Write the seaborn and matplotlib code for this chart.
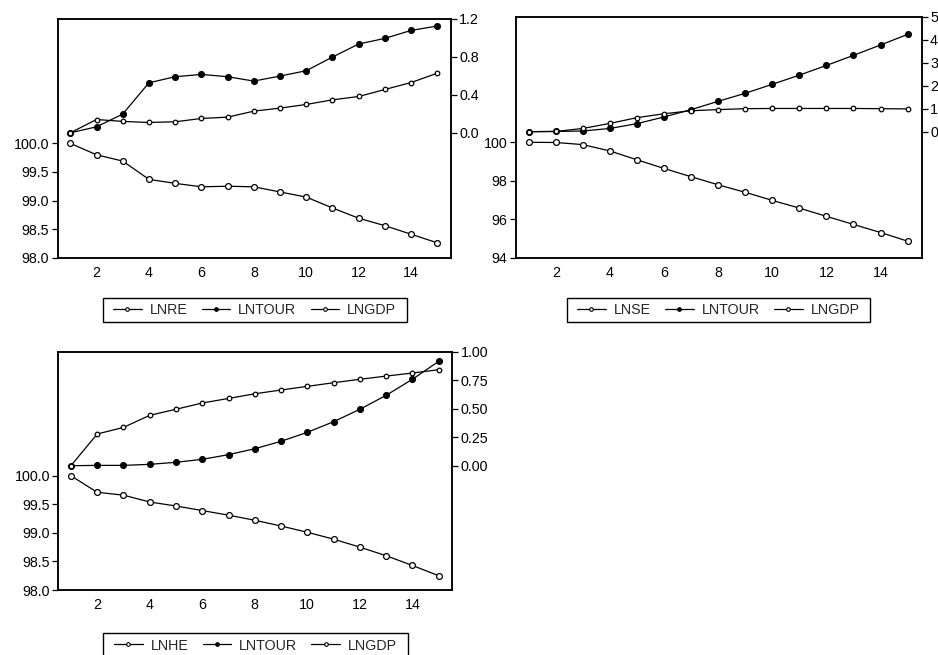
import numpy as np
import pandas as pd
import matplotlib
matplotlib.use("Agg")
import matplotlib.pyplot as plt
from matplotlib.patches import Rectangle
import seaborn as sns

sns.set_theme(style="white")
plt.rcParams['font.family'] = ['Liberation Sans', 'DejaVu Sans']

periods = list(range(1, 16))

# Panel 1
lnre = [100.0, 99.80, 99.69, 99.37, 99.30, 99.24, 99.25, 99.24, 99.15, 99.06, 98.87, 98.69, 98.56, 98.41, 98.26]
tour1 = [0.0, 0.063, 0.197, 0.526, 0.590, 0.614, 0.590, 0.544, 0.597, 0.653, 0.797, 0.934, 0.993, 1.077, 1.123]
gdp1 = [0.0, 0.140, 0.120, 0.109, 0.116, 0.151, 0.165, 0.228, 0.260, 0.298, 0.347, 0.382, 0.456, 0.529, 0.627]

# Panel 2
lnse = [100.0, 99.99, 99.88, 99.55, 99.09, 98.64, 98.21, 97.79, 97.40, 96.98, 96.58, 96.15, 95.73, 95.31, 94.86]
tour2 = [0.0, 0.01, 0.03, 0.14, 0.35, 0.64, 0.96, 1.32, 1.67, 2.06, 2.46, 2.88, 3.32, 3.77, 4.23]
gdp2 = [0.0, 0.01, 0.14, 0.36, 0.61, 0.78, 0.91, 0.96, 1.00, 1.01, 1.01, 1.01, 1.01, 1.00, 0.99]

# Panel 3
lnhe = [100.0, 99.71, 99.66, 99.54, 99.47, 99.39, 99.31, 99.22, 99.12, 99.01, 98.89, 98.75, 98.60, 98.43, 98.25]
tour3 = [0.0, 0.003, 0.003, 0.012, 0.030, 0.056, 0.097, 0.149, 0.214, 0.293, 0.386, 0.495, 0.617, 0.758, 0.915]
gdp3 = [0.0, 0.278, 0.336, 0.442, 0.495, 0.550, 0.590, 0.631, 0.664, 0.696, 0.728, 0.758, 0.786, 0.813, 0.842]

left_ticks = [[98.0, 98.5, 99.0, 99.5, 100.0], [94, 96, 98, 100], [98.0, 98.5, 99.0, 99.5, 100.0]]
left_labels = [["98.0", "98.5", "99.0", "99.5", "100.0"], ["94", "96", "98", "100"],
               ["98.0", "98.5", "99.0", "99.5", "100.0"]]
right_ticks = [[0.0, 0.4, 0.8, 1.2], [0, 1, 2, 3, 4, 5], [0.0, 0.25, 0.5, 0.75, 1.0]]
right_labels = [["0.0", "0.4", "0.8", "1.2"], ["0", "1", "2", "3", "4", "5"],
                ["0.00", "0.25", "0.50", "0.75", "1.00"]]
x_ticks = [2, 4, 6, 8, 10, 12, 14]
names = [["LNRE", "LNTOUR", "LNGDP"], ["LNSE", "LNTOUR", "LNGDP"], ["LNHE", "LNTOUR", "LNGDP"]]

W, H = 938, 655
fig = plt.figure(figsize=(W / 100, H / 100), dpi=100)

def px_rect(x0, y0, x1, y1):
    return [x0 / W, 1 - y1 / H, (x1 - x0) / W, (y1 - y0) / H]

panels = [
    dict(rect=px_rect(57.7, 18.7, 451, 257.7), left=lnre, tour=tour1, gdp=gdp1,
         lylim=(98.0, 102.18), rylim=(-1.313, 1.2), leg=(254.7, 310)),
    dict(rect=px_rect(515.7, 16.7, 921.7, 257.7), left=lnse, tour=tour2, gdp=gdp2,
         lylim=(94.0, 106.53), rylim=(-5.48, 5.0), leg=(718.4, 310)),
    dict(rect=px_rect(58.3, 351.7, 452.3, 590), left=lnhe, tour=tour3, gdp=gdp3,
         lylim=(98.0, 102.17), rylim=(-1.09, 1.0), leg=(255.5, 645.5)),
]

lw = 0.9
FS = 10.3
legends = []
for i, p in enumerate(panels):
    ax = fig.add_axes(p["rect"])
    ax2 = ax.twinx()
    df = pd.DataFrame({"t": periods, "left": p["left"], "tour": p["tour"], "gdp": p["gdp"]})
    sns.lineplot(data=df, x="t", y="left", ax=ax, color="black", linewidth=lw,
                 marker="o", markersize=4.2, markerfacecolor="white",
                 markeredgecolor="black", markeredgewidth=0.9, legend=False)
    h1 = ax.lines[-1]
    sns.lineplot(data=df, x="t", y="tour", ax=ax2, color="black", linewidth=lw,
                 marker="o", markersize=4.2, markerfacecolor="black",
                 markeredgecolor="black", markeredgewidth=0.9, legend=False)
    h2 = ax2.lines[-1]
    sns.lineplot(data=df, x="t", y="gdp", ax=ax2, color="black", linewidth=lw,
                 marker="o", markersize=3.3, markerfacecolor="white",
                 markeredgecolor="black", markeredgewidth=0.9, legend=False)
    h3 = ax2.lines[-1]

    ax.set_xlim(0.52, 15.52)
    ax.set_ylim(*p["lylim"])
    ax2.set_ylim(*p["rylim"])
    ax.set_xticks(x_ticks)
    ax.set_xticklabels([str(v) for v in x_ticks])
    ax.set_yticks(left_ticks[i])
    ax.set_yticklabels(left_labels[i])
    ax2.set_yticks(right_ticks[i])
    ax2.set_yticklabels(right_labels[i])
    for a in (ax, ax2):
        a.set_xlabel("")
        a.set_ylabel("")
        a.grid(False)
        for s in a.spines.values():
            s.set_visible(True)
            s.set_color("black")
            s.set_linewidth(1.1)
    ax.tick_params(axis="x", length=0, pad=6, labelsize=FS, colors="black")
    ax.tick_params(axis="y", direction="out", length=4, width=0.9, pad=2,
                   labelsize=FS, colors="black", left=True)
    ax2.tick_params(axis="y", direction="out", length=4, width=0.9, pad=2,
                    labelsize=FS, colors="black", right=True)
    ax2.set_facecolor("none")

    lx, ly = p["leg"]
    leg = fig.legend([h1, h2, h3], names[i], loc="center",
                     bbox_to_anchor=(lx / W, 1 - ly / H), ncol=3, frameon=False,
                     fontsize=FS, handlelength=2.0, handletextpad=0.55,
                     columnspacing=1.0, borderpad=0.35, borderaxespad=0)
    for lh in leg.legend_handles:
        lh.set_markersize(2.6)
        lh.set_markeredgewidth(0.8)
    legends.append(leg)

fig.canvas.draw()
renderer = fig.canvas.get_renderer()
for leg in legends:
    bb = leg.get_window_extent(renderer)
    padx, pady = 5.5, 0.0
    x0 = (bb.x0 - padx) / W
    y0 = (bb.y0 - pady) / H
    w = (bb.width + 2 * padx) / W
    h = (bb.height + 2 * pady) / H
    fig.patches.append(Rectangle((x0, y0), w, h, transform=fig.transFigure,
                                 fill=False, edgecolor="black", linewidth=1.0,
                                 figure=fig))

fig.savefig("out.png", dpi=100, facecolor="white")
